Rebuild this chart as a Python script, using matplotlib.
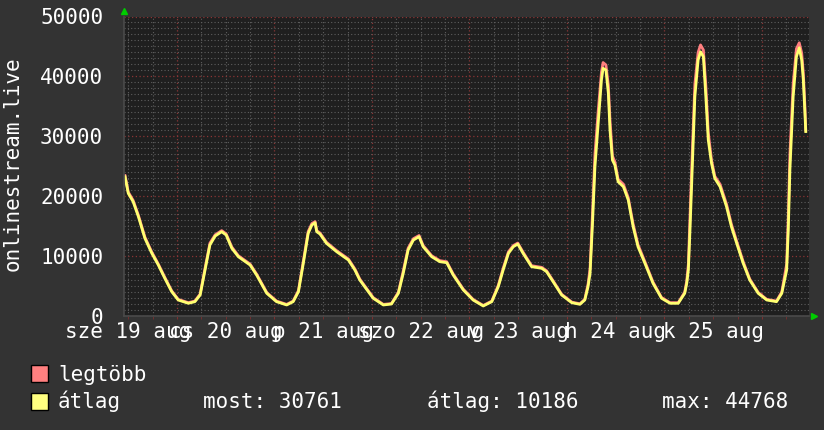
import matplotlib
matplotlib.use("Agg")
import matplotlib.pyplot as plt
from matplotlib.patches import Rectangle
from matplotlib.ticker import MultipleLocator

# hours since 2020-08-19 00:00
hours = [11.2, 12.0, 13.2, 14.5, 16.1, 17.8, 19.4, 21.0, 22.7, 24.3, 26.8, 28.4, 29.7, 30.9,
         32.1, 33.4, 35.0, 36.1, 37.5, 39.1, 42.0, 43.6, 46.1, 48.5, 51.0, 52.6, 53.9, 55.1,
         56.3, 57.2, 58.0, 58.4, 59.2, 60.8, 63.3, 66.2, 67.8, 69.0, 69.9, 72.3, 74.8, 76.8,
         78.5, 79.7, 80.9, 82.2, 83.6, 84.6, 86.7, 88.7, 90.4, 92.0, 94.5, 96.9, 99.4, 101.5,
         103.1, 104.3, 105.6, 106.8, 107.9, 109.2, 111.3, 113.8, 115.0, 116.6, 118.7, 121.2,
         123.2, 124.4, 125.2, 125.7, 126.3, 126.9, 127.7, 128.5, 128.9, 129.6, 130.2, 130.6,
         131.2, 131.8, 132.6, 133.9, 135.1, 136.3, 137.5, 139.2, 141.2, 143.3, 145.4, 147.4,
         149.0, 149.5, 149.9, 150.3, 150.9, 151.5, 152.3, 152.9, 153.6, 154.2, 154.8, 155.6,
         156.4, 157.7, 159.3, 160.5, 161.8, 163.4, 165.0, 167.1, 169.2, 171.6, 172.9, 174.1,
         174.5, 174.9, 175.7, 176.5, 177.2, 177.8, 178.2, 178.6, 178.8]

atlag = [23200, 20430, 19030, 16520, 12900, 10400, 8440, 6220, 3980, 2590, 2040, 2310, 3430, 7600,
         11790, 13290, 14010, 13460, 11240, 9830, 8440, 6770, 3710, 2310, 1760, 2310, 3980, 8730,
         13740, 15130, 15520, 14010, 13630, 12070, 10670, 9280, 7600, 5940, 5100, 2880, 1760, 1920,
         3710, 7060, 10950, 12620, 13180, 11500, 9830, 9000, 8830, 6770, 4260, 2590, 1590, 2310,
         4820, 7600, 10400, 11500, 11950, 10400, 8160, 7890, 7320, 5650, 3430, 2140,
         1870, 2590, 4820, 7060, 15420, 24880, 32140, 39380, 41330, 41050, 37150, 31020,
         26000, 25160, 22370, 21540, 19310, 14850, 11500, 8730, 5380, 2880, 2040, 2040,
         3710, 5380, 7600, 14300, 25450, 36590, 42720, 44100, 43270, 36590, 29340, 25450,
         22940, 21540, 18190, 14850, 12070, 8730, 5940, 3710, 2590, 2310, 3710, 7600,
         14300, 24330, 36590, 43270, 44768, 42720, 39380, 33810, 30761]

legtobb = [23400, 20650, 19250, 16750, 13100, 10600, 8600, 6380, 4120, 2700, 2150, 2420, 3600, 7900,
           12100, 13500, 14200, 13650, 11450, 10000, 8600, 6920, 3850, 2420, 1860, 2420, 4180, 9100,
           14050, 15380, 15700, 14200, 13800, 12250, 10850, 9450, 7780, 6100, 5250, 3000, 1860, 2000,
           3900, 7450, 11250, 12850, 13380, 11700, 10000, 9180, 9000, 6930, 4400, 2700, 1680, 2420,
           5050, 7900, 10650, 11700, 12120, 10600, 8330, 8050, 7480, 5800, 3550, 2240,
           1960, 2720, 5250, 7900, 17200, 27000, 34200, 40700, 42300, 41900, 38500, 32800,
           26700, 25700, 22800, 21950, 19700, 15300, 11850, 9000, 5580, 3000, 2150, 2150,
           3900, 5800, 8600, 16500, 28000, 38700, 44000, 45250, 44400, 38400, 30600, 26000,
           23300, 21950, 18600, 15250, 12400, 9000, 6120, 3850, 2700, 2420, 3950, 8600,
           16500, 27000, 38700, 44600, 45600, 43900, 40600, 34900, 31000]

day_labels = ["sze 19 aug", "cs 20 aug", "p 21 aug", "szo 22 aug", "v 23 aug", "h 24 aug", "k 25 aug"]
stats = ["most: 30761", "átlag: 10186", "max: 44768"]

BG = "#333333"
PLOT_BG = "#1f1f1f"
MONO = "DejaVu Sans Mono"

fig = plt.figure(figsize=(8.24, 4.30), dpi=100, facecolor=BG)
W, H = 824, 430
ax = fig.add_axes([124 / W, 1 - 315.5 / H, 685 / W, 299 / H], facecolor=PLOT_BG)

ax.set_xlim(10.95, 179.6)
ax.set_ylim(0, 50000)

# grid: minor gray, major red, all dotted
ax.xaxis.set_major_locator(MultipleLocator(24))
ax.xaxis.set_minor_locator(MultipleLocator(6))
ax.yaxis.set_major_locator(MultipleLocator(10000))
ax.yaxis.set_minor_locator(MultipleLocator(1000))
ax.grid(which="minor", color="#5e5e5e", linestyle=(0, (1, 2)), linewidth=0.8)
ax.grid(which="major", color="#8a3535", linestyle=(0, (1, 2)), linewidth=0.9)
ax.set_axisbelow(True)

ax.plot(hours, legtobb, color="#ff7f7f", linewidth=2.0)
ax.plot(hours, atlag, color="#ffff70", linewidth=2.0)

for s in ["top", "right"]:
    ax.spines[s].set_visible(False)
for s in ["left", "bottom"]:
    ax.spines[s].set_color("#4a4a4a")
    ax.spines[s].set_linewidth(1.2)

ax.tick_params(axis="x", which="both", length=2, color="#7a3030", labelbottom=False)
ax.tick_params(axis="y", which="both", length=0, pad=15, labelcolor="white", labelsize=15)
ax.set_yticks(range(0, 50001, 10000))
ax.set_yticklabels([str(v) for v in range(0, 50001, 10000)], fontfamily=MONO)

# day labels centred on noon
for i, lab in enumerate(day_labels):
    ax.text(12 + 24 * i, (315.5 - 338) / 299, lab, transform=ax.get_xaxis_transform(),
            ha="center", va="baseline", color="white", fontsize=15, fontfamily=MONO)

# green arrows at axis ends
ax.plot([0], [1 + 6 / 299], marker="^", color="#00cc00", markersize=5, transform=ax.transAxes,
        clip_on=False)
ax.plot([1 + 4.5 / 685], [0], marker=">", color="#00cc00", markersize=5, transform=ax.transAxes,
        clip_on=False)

fig.text(12.5 / W, 1 - 164 / H, "onlinestream.live", rotation=90, ha="center", va="center",
         color="white", fontsize=15, fontfamily=MONO)

# legend
for top, col in [(365, "#ff8080"), (393, "#ffff80")]:
    fig.patches.append(Rectangle((31 / W, 1 - (top + 16.5) / H), 17 / W, 16.5 / H,
                                 transform=fig.transFigure, facecolor=col, edgecolor="black",
                                 linewidth=1))
fig.text(58 / W, 1 - 381 / H, "legtöbb", color="white", fontsize=15, fontfamily=MONO,
         va="baseline")
fig.text(58 / W, 1 - 408 / H, "átlag", color="white", fontsize=15, fontfamily=MONO,
         va="baseline")
for xp, s in zip([203, 427, 662], stats):
    fig.text(xp / W, 1 - 408 / H, s, color="white", fontsize=15, fontfamily=MONO, va="baseline")

fig.savefig("out.png", dpi=100, facecolor=BG)
